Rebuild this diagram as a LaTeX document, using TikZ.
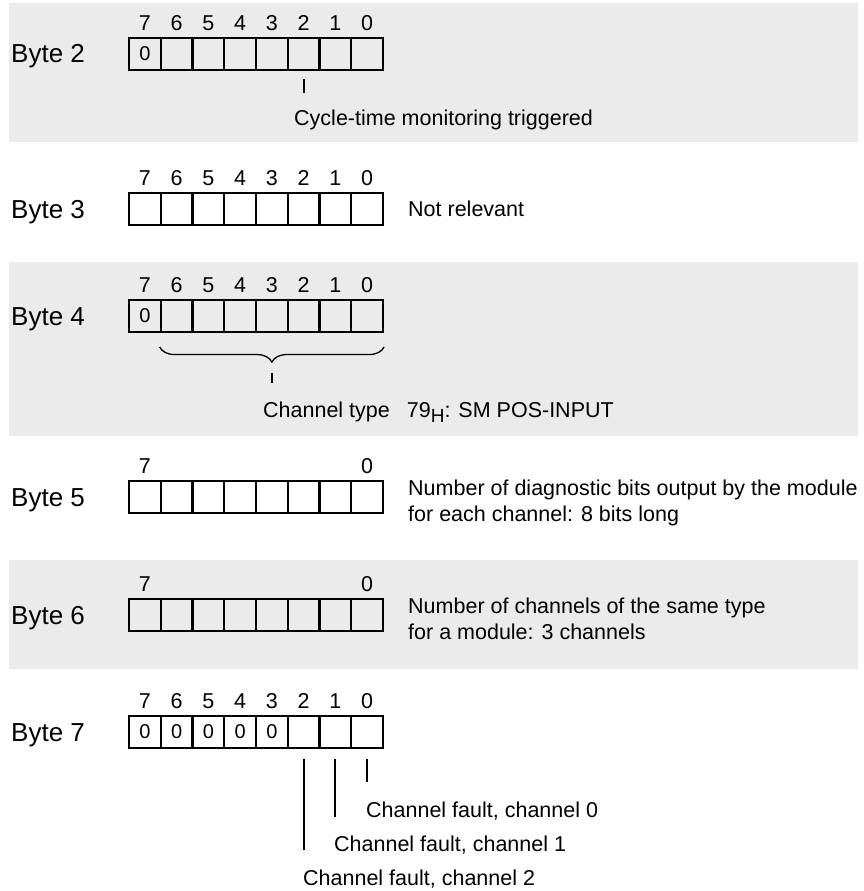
\documentclass[tikz,border=0pt]{standalone}
\usepackage{fontspec}
\setmainfont{Liberation Sans}
\usetikzlibrary{positioning,calc,decorations.pathreplacing}
\definecolor{bandgray}{RGB}{235,235,235}

\begin{document}
\begin{tikzpicture}[x=1pt, y=-1pt,
    cell/.style={draw, rectangle, line width=2.1pt, minimum width=31.75pt, minimum height=32pt, inner sep=0pt, font=\fontsize{20}{20}\selectfont},
    bitno/.style={inner sep=0pt, font=\fontsize{21.5}{24}\selectfont},
    bytelabel/.style={anchor=base west, inner sep=0pt, font=\fontsize{26}{30}\selectfont},
    desc/.style={anchor=base west, inner sep=0pt, align=left, font=\fontsize{21.5}{26}\selectfont},
    pointer/.style={line width=2pt}]
    \useasboundingbox (0,0) rectangle (863,891);
    % Grey bands
    \fill[bandgray] (9,3) rectangle (858,142);
    \fill[bandgray] (9,262) rectangle (858,436);
    \fill[bandgray] (9,560) rectangle (858,669);
    % Byte 2
    \node[bytelabel] (lab2) at (11,63) {Byte 2};
    \foreach \b in {0,...,7} {
        \node[cell] (b2c\b) at ({367.125-31.75*\b}, 54) {\ifnum\b=7 0\fi};
        \node[bitno] (b2n\b) at ({367.125-31.75*\b}, 23) {\b};
    }
    \coordinate (t2) at (303.625,93);
    \draw[pointer, shorten <=8pt] (b2c2.south) -- (t2);
    \node[desc] (cyc) at (294,125) {Cycle-time monitoring triggered};
    % Byte 3
    \node[bytelabel] (lab3) at (11,218) {Byte 3};
    \foreach \b in {0,...,7} {
        \node[cell] (b3c\b) at ({367.125-31.75*\b}, 209) {};
        \node[bitno] (b3n\b) at ({367.125-31.75*\b}, 178) {\b};
    }
    \node[desc] (notrel) at (408,216) {Not relevant};
    % Byte 4
    \node[bytelabel] (lab4) at (11,325) {Byte 4};
    \foreach \b in {0,...,7} {
        \node[cell] (b4c\b) at ({367.125-31.75*\b}, 316) {\ifnum\b=7 0\fi};
        \node[bitno] (b4n\b) at ({367.125-31.75*\b}, 285) {\b};
    }
    \coordinate (br4l) at ($(b4c6.south west)+(0,14)$);
    \coordinate (br4r) at ($(b4c0.south east)+(0,14)$);
    \draw[decorate, decoration={brace, amplitude=15pt}, line width=1.3pt] (br4r) -- (br4l);
    \coordinate (t4a) at (272,373);
    \coordinate (t4b) at (272,383);
    \draw[pointer] (t4a) -- (t4b);
    \node[desc] (chtype) at (263,417) {Channel type\hspace{17pt}79\raisebox{-5pt}{\fontsize{19}{19}\selectfont H}: SM POS-INPUT};
    % Byte 5
    \node[bytelabel] (lab5) at (11,506) {Byte 5};
    \foreach \b in {0,...,7} {
        \node[cell] (b5c\b) at ({367.125-31.75*\b}, 497) {};
    }
    \node[bitno] (b5n7) at (b5c7 |- 0,466) {7};
    \node[bitno] (b5n0) at (b5c0 |- 0,466) {0};
    \node[desc] (nbits) at (408,521) {Number of diagnostic bits output by the module\\for each channel: 8 bits long};
    % Byte 6
    \node[bytelabel] (lab6) at (11,624) {Byte 6};
    \foreach \b in {0,...,7} {
        \node[cell] (b6c\b) at ({367.125-31.75*\b}, 615) {};
    }
    \node[bitno] (b6n7) at (b6c7 |- 0,584) {7};
    \node[bitno] (b6n0) at (b6c0 |- 0,584) {0};
    \node[desc] (nchan) at (408,639) {Number of channels of the same type\\for a module: 3 channels};
    % Byte 7
    \node[bytelabel] (lab7) at (11,741) {Byte 7};
    \foreach \b in {0,...,7} {
        \node[cell] (b7c\b) at ({367.125-31.75*\b}, 732) {\ifnum\b>2 0\fi};
        \node[bitno] (b7n\b) at ({367.125-31.75*\b}, 701) {\b};
    }
    \coordinate (e70) at (367.125,782);
    \coordinate (e71) at (335.375,817);
    \coordinate (e72) at (303.625,850);
    \draw[pointer, shorten <=10pt] (b7c0.south) -- (e70);
    \draw[pointer, shorten <=10pt] (b7c1.south) -- (e71);
    \draw[pointer, shorten <=10pt] (b7c2.south) -- (e72);
    \node[desc] (ch0) at (366,817) {Channel fault, channel 0};
    \node[desc] (ch1) at (334,851) {Channel fault, channel 1};
    \node[desc] (ch2) at (303,885) {Channel fault, channel 2};
\end{tikzpicture}
\end{document}
